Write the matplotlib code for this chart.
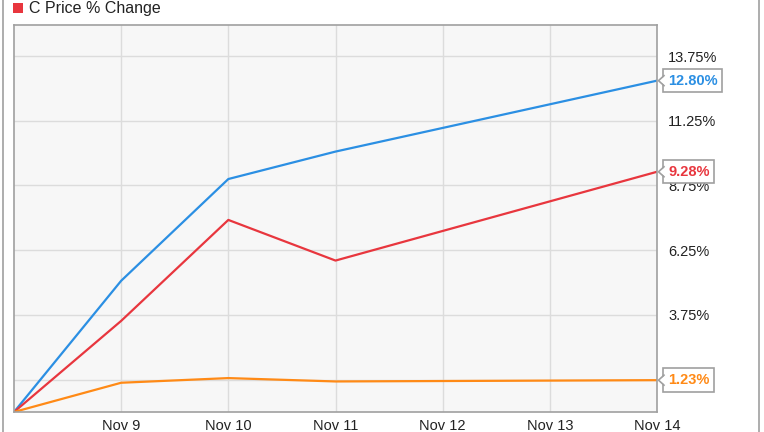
import matplotlib.pyplot as plt
from matplotlib.lines import Line2D
from matplotlib.patches import Polygon
from matplotlib.transforms import IdentityTransform

plt.rcParams['font.family'] = ['Liberation Sans', 'DejaVu Sans']

# data: % change since Nov 8 (trading days only)
days = [8, 9, 10, 11, 14]
blue_vals = [0, 5.07, 9.0, 10.06, 12.80]
red_vals = [0, 3.52, 7.42, 5.85, 9.28]
orange_vals = [0, 1.13, 1.31, 1.18, 1.23]

tick_days = [9, 10, 11, 12, 13, 14]
tick_labels = ['Nov 9', 'Nov 10', 'Nov 11', 'Nov 12', 'Nov 13', 'Nov 14']
y_ticks = [1.25, 3.75, 6.25, 8.75, 11.25, 13.75]

blue = '#2b8fe3'
red = '#e8363e'
orange = '#ff8a16'
frame = '#a0a0a0'

fig = plt.figure(figsize=(7.64, 4.32), dpi=100)
ax = fig.add_axes([14/764, 20/432, (657-14)/764, (412-25)/432])
ax.set_facecolor('#f7f7f7')

ax.plot(days, blue_vals, color=blue, lw=1.6)
ax.plot(days, red_vals, color=red, lw=1.6)
ax.plot(days, orange_vals, color=orange, lw=1.6)

ax.set_xlim(8, 14)
ax.set_ylim(0, 14.95)
ax.set_xticks(tick_days)
ax.set_xticklabels(tick_labels)
ax.set_yticks(y_ticks)
ax.set_yticklabels(['%.2f%%' % v for v in y_ticks])
ax.yaxis.tick_right()
ax.tick_params(length=0, labelsize=10.5, colors='#222222')
ax.tick_params(axis='y', pad=8)
ax.tick_params(axis='x', pad=5)
ax.grid(True, color='#dcdcdc', lw=1)
for s in ax.spines.values():
    s.set_color(frame)
    s.set_linewidth(1.2)

# end-value labels with a small pointer on the left
for vals, col in [(blue_vals, blue), (red_vals, red), (orange_vals, orange)]:
    v = vals[-1]
    ax.annotate('%.2f%%' % v, xy=(1, v), xycoords=('axes fraction', 'data'),
                xytext=(8, 0), textcoords='offset points', va='center', ha='left',
                fontsize=10.5, fontweight='bold', color=col, annotation_clip=False,
                bbox=dict(boxstyle='square,pad=0.32', fc='white', ec=frame, lw=1.2),
                zorder=5)
    px, py = ax.transData.transform((days[-1], v))
    tip = px + 1.5
    base = px + 7
    fig.add_artist(Polygon([(tip, py), (base + 1.5, py + 5), (base + 1.5, py - 5)],
                           closed=True, fc='white', ec='none', transform=IdentityTransform(),
                           zorder=6))
    fig.add_artist(Line2D([base, tip, base], [py + 5, py, py - 5], color=frame, lw=1.2,
                          transform=IdentityTransform(), zorder=7))

# legend
fig.add_artist(plt.Rectangle((13/764, 1-13/432), 10/764, 10/432, transform=fig.transFigure,
                             color=red, lw=0))
fig.text(29/764, 1-8/432, 'C Price % Change', fontsize=11.5, color='#222222', va='center')

# outer frame lines
fig.add_artist(Line2D([2.5/764, 2.5/764], [0, 1], color=frame, lw=1.2))
fig.add_artist(Line2D([759/764, 759/764], [0, 1], color=frame, lw=1.2))

fig.savefig('out.png', dpi=100)
